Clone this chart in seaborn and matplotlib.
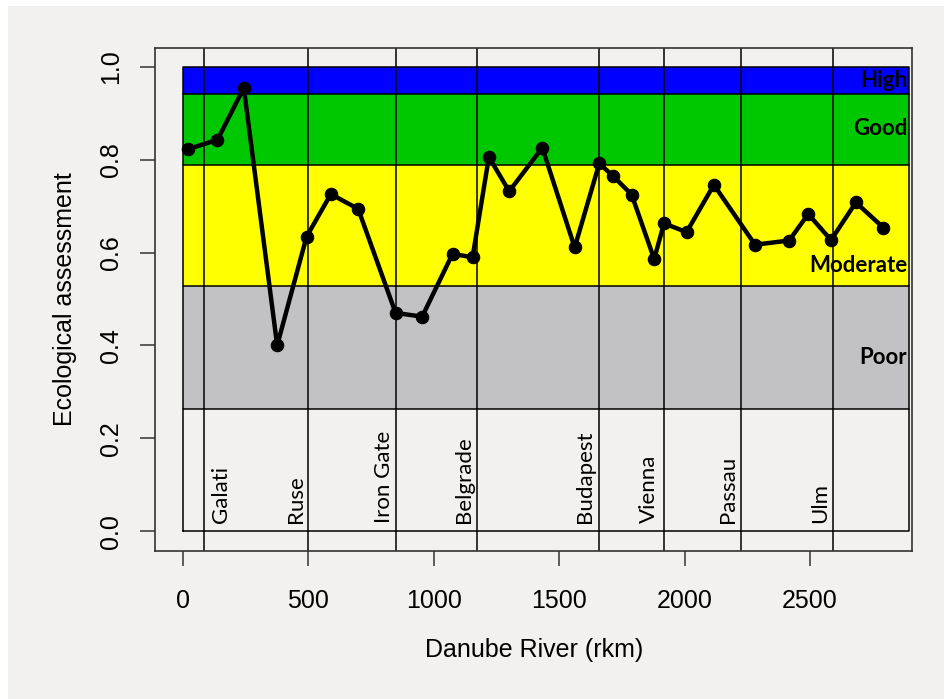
import matplotlib
matplotlib.use("Agg")
import matplotlib.pyplot as plt
import pandas as pd
import seaborn as sns

# sampling sites along the Danube (river km) and their ecological assessment
rkm = [21, 138, 243, 376, 493, 590, 699, 848, 954, 1075, 1155, 1220, 1301, 1433,
       1562, 1660, 1713, 1789, 1879, 1918, 2008, 2117, 2281, 2417, 2493, 2584, 2683, 2792]
assessment = [0.823, 0.843, 0.955, 0.400, 0.634, 0.726, 0.694, 0.470, 0.462, 0.597,
              0.590, 0.806, 0.732, 0.826, 0.611, 0.792, 0.766, 0.725, 0.586, 0.663,
              0.644, 0.746, 0.617, 0.626, 0.683, 0.627, 0.708, 0.654]

# quality classes
class_names = ['Poor', 'Moderate', 'Good', 'High']
class_lower = [0.262, 0.527, 0.789, 0.941]
class_upper = [0.527, 0.789, 0.941, 1.0]
class_colors = ['#c2c2c4', '#ffff00', '#00c800', '#0000ff']
class_label_y = [0.374, 0.572, 0.867, 0.970]
band_end = 2895

# cities
cities = ['Galati', 'Ruse', 'Iron Gate', 'Belgrade', 'Budapest', 'Vienna', 'Passau', 'Ulm']
city_line_km = [84, 500, 848, 1172, 1659, 1918, 2224, 2590]
city_label_km = [152, 450, 801, 1120, 1603, 1858, 2173, 2540]

bg = '#f2f1f0'
sns.set_style("white")
plt.rcParams['font.family'] = ['Liberation Sans', 'DejaVu Sans']
plt.rcParams['text.color'] = 'black'
plt.rcParams['axes.labelcolor'] = 'black'
plt.rcParams['xtick.color'] = 'black'
plt.rcParams['ytick.color'] = 'black'

fig = plt.figure(figsize=(9.45, 6.99), dpi=100)
fig.patch.set_facecolor('white')
fig.patches.append(plt.Rectangle((8 / 945, 0), 1, 1 - 6 / 699, transform=fig.transFigure,
                                 facecolor=bg, edgecolor='none', zorder=-10))
ax = fig.add_axes([0.1643, 0.2117, 0.9654 - 0.1643, 0.9318 - 0.2117])
ax.set_facecolor(bg)

# coloured bands
for lo, hi, col in zip(class_lower, class_upper, class_colors):
    ax.fill_between([0, band_end], lo, hi, color=col, linewidth=0, zorder=1)
for y in class_lower:
    ax.plot([0, band_end], [y, y], color='black', lw=1.1, zorder=2)
ax.plot([0, band_end, band_end, 0, 0], [0, 0, 1, 1, 0], color='black', lw=1.1, zorder=2)

for name, y in zip(class_names, class_label_y):
    ax.text(2887, y, name, ha='right', va='center', fontsize=16, fontweight='bold',
            family=['Lato', 'DejaVu Sans'], color='black', zorder=3)

for x in city_line_km:
    ax.axvline(x, color='black', lw=1.1, zorder=2)
for name, x in zip(cities, city_label_km):
    ax.text(x, 0.017, name, rotation=90, ha='center', va='bottom', fontsize=16,
            family=['Lato', 'DejaVu Sans'], color='black', zorder=3)

df = pd.DataFrame({'rkm': rkm, 'assessment': assessment})
sns.lineplot(data=df, x='rkm', y='assessment', ax=ax, color='black', lw=3.2,
             marker='o', markersize=9, markeredgecolor='black', zorder=5)

ax.set_xlim(-110, 2908)
ax.set_ylim(-0.043, 1.0415)
ax.set_xticks([0, 500, 1000, 1500, 2000, 2500])
ax.set_yticks([0.0, 0.2, 0.4, 0.6, 0.8, 1.0])
ax.set_yticklabels(['0.0', '0.2', '0.4', '0.6', '0.8', '1.0'], rotation=90, va='center')
ax.tick_params(axis='both', direction='out', length=11, width=1.1, color='#333333',
               labelsize=18, labelcolor='black', left=True, bottom=True)
ax.tick_params(axis='x', pad=16)
ax.tick_params(axis='y', pad=12)
ax.set_xlabel('Danube River (rkm)', fontsize=18, labelpad=18)
ax.set_ylabel('Ecological assessment', fontsize=18, labelpad=16)
for s in ax.spines.values():
    s.set_visible(True)
    s.set_color('#333333')
    s.set_linewidth(1.2)

fig.savefig('out.png', dpi=100, facecolor=fig.get_facecolor())
